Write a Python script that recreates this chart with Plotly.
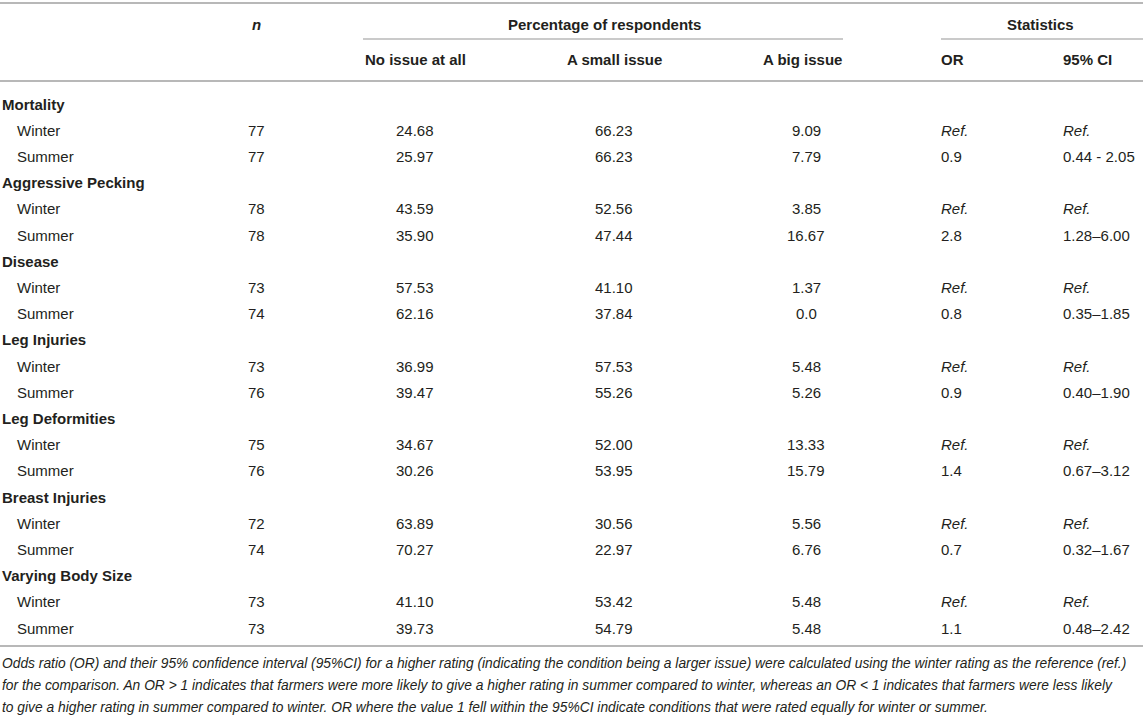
import plotly.graph_objects as go

# ---------------- data ----------------
categories = ["Mortality", "Aggressive Pecking", "Disease", "Leg Injuries",
              "Leg Deformities", "Breast Injuries", "Varying Body Size"]
seasons = ["Winter", "Summer"]
n_winter = [77, 78, 73, 73, 75, 72, 73]
n_summer = [77, 78, 74, 76, 76, 74, 73]
no_issue_winter = ["24.68", "43.59", "57.53", "36.99", "34.67", "63.89", "41.10"]
no_issue_summer = ["25.97", "35.90", "62.16", "39.47", "30.26", "70.27", "39.73"]
small_issue_winter = ["66.23", "52.56", "41.10", "57.53", "52.00", "30.56", "53.42"]
small_issue_summer = ["66.23", "47.44", "37.84", "55.26", "53.95", "22.97", "54.79"]
big_issue_winter = ["9.09", "3.85", "1.37", "5.48", "13.33", "5.56", "5.48"]
big_issue_summer = ["7.79", "16.67", "0.0", "5.26", "15.79", "6.76", "5.48"]
or_winter = ["Ref."] * 7
or_summer = ["0.9", "2.8", "0.8", "0.9", "1.4", "0.7", "1.1"]
ci_winter = ["Ref."] * 7
ci_summer = ["0.44 - 2.05", "1.28–6.00", "0.35–1.85", "0.40–1.90",
             "0.67–3.12", "0.32–1.67", "0.48–2.42"]

group_headers = ["<i>n</i>", "Percentage of respondents", "Statistics"]
column_headers = ["No issue at all", "A small issue", "A big issue", "OR", "95% CI"]

caption_lines = [
    "Odds ratio (OR) and their 95% confidence interval (95%CI) for a higher rating (indicating the condition being a larger issue) were calculated using the winter rating as the reference (ref.)",
    "for the comparison. An OR &gt; 1 indicates that farmers were more likely to give a higher rating in summer compared to winter, whereas an OR &lt; 1 indicates that farmers were less likely",
    "to give a higher rating in summer compared to winter. OR where the value 1 fell within the 95%CI indicate conditions that were rated equally for winter or summer.",
]

# ---------------- layout constants ----------------
W, H = 1143, 720
FONT = "Liberation Sans, Arial, Helvetica, sans-serif"
TXT = "#231f20"
RULE = "#b8b8b8"
FS = 15

x_label, x_sub = 1, 16
x_n = 256
x_no, x_small, x_big_head, x_big = 415, 614, 802, 806
x_or, x_ci = 940, 1062
x_pct_group, x_stat_group = 604, 1040
y_group, y_head = 24, 59
row0, pitch = 104, 26.2

fig = go.Figure()
fig.add_trace(go.Scatter(x=[0, W], y=[0, H], mode="markers",
                         marker=dict(opacity=0), hoverinfo="skip", showlegend=False))

ann = []


def text(x, y, s, anchor="center", bold=False, italic=False, size=FS):
    if italic:
        s = f"<i>{s}</i>"
    if bold:
        s = f"<b>{s}</b>"
    ann.append(dict(x=x, y=y, xref="x", yref="y", text=s, showarrow=False,
                    xanchor=anchor, yanchor="middle", borderpad=0,
                    font=dict(family=FONT, size=size, color=TXT)))


# headers
text(x_n, y_group, group_headers[0], bold=True)
text(x_pct_group, y_group, group_headers[1], bold=True)
text(x_stat_group, y_group, group_headers[2], bold=True)
text(x_no, y_head, column_headers[0], bold=True)
text(x_small, y_head, column_headers[1], bold=True)
text(x_big_head, y_head, column_headers[2], bold=True)
text(x_or, y_head, column_headers[3], anchor="left", bold=True)
text(x_ci, y_head, column_headers[4], anchor="left", bold=True)

# body
k = 0
for i, cat in enumerate(categories):
    y = row0 + k * pitch
    text(x_label, y, cat, anchor="left", bold=True)
    k += 1
    rows = [
        (seasons[0], n_winter[i], no_issue_winter[i], small_issue_winter[i],
         big_issue_winter[i], or_winter[i], ci_winter[i]),
        (seasons[1], n_summer[i], no_issue_summer[i], small_issue_summer[i],
         big_issue_summer[i], or_summer[i], ci_summer[i]),
    ]
    for season, nn, a, b, c, orv, civ in rows:
        y = row0 + k * pitch
        text(x_sub, y, season, anchor="left")
        text(x_n, y, str(nn))
        text(x_no, y, a)
        text(x_small, y, b)
        text(x_big, y, c)
        text(x_or, y, orv, anchor="left", italic=(orv == "Ref."))
        text(x_ci, y, civ, anchor="left", italic=(civ == "Ref."))
        k += 1

# caption
for j, line in enumerate(caption_lines):
    text(x_label, 663 + j * 22, line, anchor="left", italic=True, size=13.8)

# rules
shapes = [
    dict(type="line", x0=0, x1=W, y0=3, y1=3, line=dict(color=RULE, width=2)),
    dict(type="line", x0=363, x1=843, y0=39, y1=39, line=dict(color=RULE, width=1.5)),
    dict(type="line", x0=x_or + 1, x1=W, y0=39, y1=39, line=dict(color=RULE, width=1.5)),
    dict(type="line", x0=0, x1=W, y0=81, y1=81, line=dict(color=RULE, width=2)),
    dict(type="line", x0=0, x1=W, y0=646, y1=646, line=dict(color=RULE, width=2)),
]
for s in shapes:
    s.update(xref="x", yref="y", layer="below")

fig.update_layout(
    width=W, height=H,
    margin=dict(l=0, r=0, t=0, b=0),
    paper_bgcolor="white", plot_bgcolor="white",
    xaxis=dict(range=[0, W], visible=False, fixedrange=True),
    yaxis=dict(range=[H, 0], visible=False, fixedrange=True),
    annotations=ann, shapes=shapes, showlegend=False,
)

fig.write_html(
    "out.html",
    config={"displayModeBar": False},
    post_script="document.body.style.margin='0';document.body.style.overflow='hidden';",
)
